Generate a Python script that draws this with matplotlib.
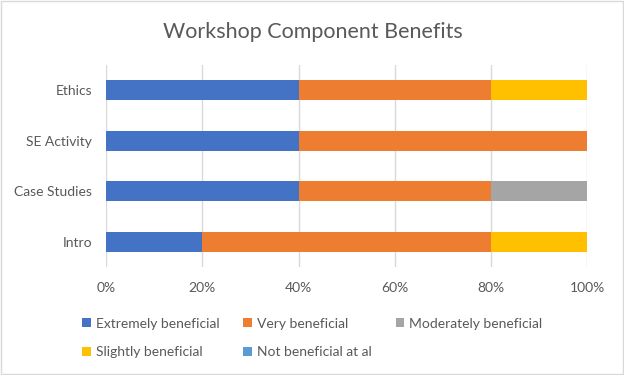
import matplotlib

matplotlib.use("Agg")

import matplotlib.pyplot as plt
import numpy as np
from matplotlib.patches import Rectangle

categories = ["Intro", "Case Studies", "SE Activity", "Ethics"]
series_names = [
    "Extremely beneficial",
    "Very beneficial",
    "Moderately beneficial",
    "Slightly beneficial",
    "Not beneficial at al",
]
extremely = [20, 40, 40, 40]
very = [60, 40, 60, 40]
moderately = [0, 20, 0, 0]
slightly = [20, 0, 0, 20]
not_at_all = [0, 0, 0, 0]
x_ticks = [0, 20, 40, 60, 80, 100]

colors = ["#4472C4", "#ED7D31", "#A5A5A5", "#FFC000", "#5B9BD5"]
text_color = "#595959"

plt.rcParams["font.family"] = ["Lato", "DejaVu Sans"]

fig = plt.figure(figsize=(6.24, 3.75), dpi=100)
ax = fig.add_axes([0.170, 0.288, 0.771, 0.539])

y = np.arange(len(categories))
left = np.zeros(len(categories))
handles = []
for name, values, color in zip(series_names, [extremely, very, moderately, slightly, not_at_all], colors):
    values = np.asarray(values, dtype=float)
    h = ax.barh(y, values, left=left, height=0.4, color=color, label=name, zorder=3)
    handles.append(h)
    left += values

ax.set_xlim(0, 100)
ax.set_ylim(-0.5, len(categories) - 0.5)
ax.set_xticks(x_ticks)
ax.set_xticklabels([f"{t}%" for t in x_ticks])
ax.set_yticks(y)
ax.set_yticklabels(categories)
ax.tick_params(axis="both", length=0, labelsize=10, colors=text_color)
ax.tick_params(axis="x", pad=11)
ax.tick_params(axis="y", pad=10)
ax.grid(True, axis="x", color="#D9D9D9", linewidth=1.0, zorder=0)
for spine in ax.spines.values():
    spine.set_visible(False)

fig.text(0.502, 0.916, "Workshop Component Benefits", ha="center", va="center",
         fontsize=15.5, color=text_color)

order = [0, 3, 1, 4, 2]
fig.legend([handles[i] for i in order], [series_names[i] for i in order],
           ncol=3, loc="upper left", bbox_to_anchor=(0.132, 0.153),
           frameon=False, fontsize=10, labelcolor=text_color,
           handlelength=0.6, handleheight=0.6, handletextpad=0.35,
           columnspacing=1.75, labelspacing=1.2, borderaxespad=0, borderpad=0)

fig.add_artist(Rectangle((0.001, 0.002), 0.997, 0.995, transform=fig.transFigure,
                         fill=False, edgecolor="#D9D9D9", linewidth=1.0))

fig.savefig("out.png", dpi=100)
